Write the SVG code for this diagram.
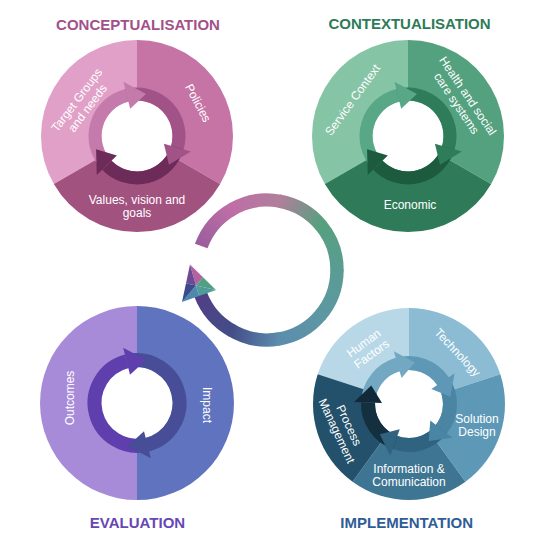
<svg xmlns="http://www.w3.org/2000/svg" width="546" height="540" viewBox="0 0 546 540">
<style>
.t{font-family:"Liberation Sans",Arial,sans-serif;font-size:12px;fill:#fff;text-anchor:middle}
.title{font-family:"Liberation Sans",Arial,sans-serif;font-size:15px;font-weight:bold;text-anchor:middle}
.b{fill:none;stroke-width:13}
.b14{fill:none;stroke-width:14}
.hole{fill:#fff}
</style>
<defs>
<linearGradient id="g1" gradientUnits="userSpaceOnUse" x1="201.22" y1="246.06" x2="232" y2="209.38"><stop offset="0" stop-color="#9a5e9d"/><stop offset="1" stop-color="#bf6ea6"/></linearGradient>
<linearGradient id="g2" gradientUnits="userSpaceOnUse" x1="232" y1="209.38" x2="279.16" y2="201.06"><stop offset="0" stop-color="#bf6ea6"/><stop offset="1" stop-color="#b07f9c"/></linearGradient>
<linearGradient id="g3" gradientUnits="userSpaceOnUse" x1="279.16" y1="201.06" x2="320.62" y2="225"><stop offset="0" stop-color="#b07f9c"/><stop offset="1" stop-color="#56a07f"/></linearGradient>
<linearGradient id="g4" gradientUnits="userSpaceOnUse" x1="320.62" y1="225" x2="337" y2="270"><stop offset="0" stop-color="#56a07f"/><stop offset="1" stop-color="#5a9c93"/></linearGradient>
<linearGradient id="g5" gradientUnits="userSpaceOnUse" x1="337" y1="270" x2="320.62" y2="315"><stop offset="0" stop-color="#5a9c93"/><stop offset="1" stop-color="#5d97a3"/></linearGradient>
<linearGradient id="g6" gradientUnits="userSpaceOnUse" x1="320.62" y1="315" x2="279.16" y2="338.94"><stop offset="0" stop-color="#5d97a3"/><stop offset="1" stop-color="#5b8dac"/></linearGradient>
<linearGradient id="g7" gradientUnits="userSpaceOnUse" x1="279.16" y1="338.94" x2="232" y2="330.62"><stop offset="0" stop-color="#5b8dac"/><stop offset="1" stop-color="#434d88"/></linearGradient>
<linearGradient id="g8" gradientUnits="userSpaceOnUse" x1="232" y1="330.62" x2="201.22" y2="293.94"><stop offset="0" stop-color="#434d88"/><stop offset="1" stop-color="#523f85"/></linearGradient>
</defs>
<rect width="546" height="540" fill="#fff"/>

<g id="connectors">
<path d="M201.22 246.06 A70 70 0 0 1 233.06 208.78" stroke="url(#g1)" stroke-width="13.4" fill="none"/>
<path d="M232 209.38 A70 70 0 0 1 280.36 201.29" stroke="url(#g2)" stroke-width="13.4" fill="none"/>
<path d="M279.16 201.06 A70 70 0 0 1 321.40 225.95" stroke="url(#g3)" stroke-width="13.4" fill="none"/>
<path d="M320.62 225 A70 70 0 0 1 336.99 271.22" stroke="url(#g4)" stroke-width="13.4" fill="none"/>
<path d="M337 270 A70 70 0 0 1 319.83 315.92" stroke="url(#g5)" stroke-width="13.4" fill="none"/>
<path d="M320.62 315 A70 70 0 0 1 277.95 339.14" stroke="url(#g6)" stroke-width="13.4" fill="none"/>
<path d="M279.16 338.94 A70 70 0 0 1 230.95 330" stroke="url(#g7)" stroke-width="13.4" fill="none"/>
<path d="M232 330.62 A70 70 0 0 1 200.5 294.2" stroke="url(#g8)" stroke-width="13.4" fill="none"/>
<g id="cycle-arrowhead">
<polygon points="196,285.5 190,264.5 203,277.25" fill="#b3649f"/>
<polygon points="196,285.5 203,277.25 216,290" fill="#52a083"/>
<polygon points="196,285.5 216,290 199,296" fill="#4f9c98"/>
<polygon points="196,285.5 199,296 182,302" fill="#4d88ad"/>
<polygon points="196,285.5 182,302 186,283.25" fill="#3b4b8c"/>
<polygon points="196,285.5 186,283.25 190,264.5" fill="#6c4a96"/>
</g>
</g>

<g id="conceptualisation" transform="translate(137,136)">
<text class="title" x="1" y="-106.5" fill="#a3508a">CONCEPTUALISATION</text>
<path d="M0 0 L-83.14 48 A96 96 0 0 1 0 -96 Z" fill="#e1a0c7"/>
<path d="M0 0 L0 -96 A96 96 0 0 1 83.14 48 Z" fill="#c674a6"/>
<path d="M0 0 L83.14 48 A96 96 0 0 1 -83.14 48 Z" fill="#a2527f"/>
<circle class="hole" r="35.5"/>
<path class="b" d="M-30.21 29.18 A42 42 0 0 1 -10.16 -40.75" stroke="#c47bab"/>
<path class="b" d="M-10.16 -40.75 A42 42 0 0 1 40.37 11.58" stroke="#a15388"/>
<path class="b" d="M40.37 11.58 A42 42 0 0 1 -30.21 29.18" stroke="#6c2b59"/>
<polygon points="-6.77,-27.17 -13.55,-54.34 8.94,-42.06" fill="#c47bab"/>
<polygon points="26.92,7.72 53.83,15.43 31.95,28.77" fill="#a15388"/>
<polygon points="-20.14,19.45 -40.28,38.9 -40.9,13.29" fill="#6c2b59"/>
<text class="t" transform="translate(-55,-32) rotate(-53)"><tspan x="0" y="-2.5">Target Groups</tspan><tspan x="0" y="11">and needs</tspan></text>
<text class="t" transform="translate(61,-33) rotate(62)" y="4">Policies</text>
<text class="t"><tspan x="0" y="68">Values, vision and</tspan><tspan x="0" y="81">goals</tspan></text>
</g>

<g id="contextualisation" transform="translate(408,136)">
<text class="title" x="1.5" y="-106.7" fill="#2e7a57">CONTEXTUALISATION</text>
<path d="M0 0 L-83.14 48 A96 96 0 0 1 0 -96 Z" fill="#86c4a6"/>
<path d="M0 0 L0 -96 A96 96 0 0 1 83.14 48 Z" fill="#54a17f"/>
<path d="M0 0 L83.14 48 A96 96 0 0 1 -83.14 48 Z" fill="#2f7b59"/>
<circle class="hole" r="35.5"/>
<path class="b" d="M-30.21 29.18 A42 42 0 0 1 -10.16 -40.75" stroke="#58a786"/>
<path class="b" d="M-10.16 -40.75 A42 42 0 0 1 40.37 11.58" stroke="#2f7c5a"/>
<path class="b" d="M40.37 11.58 A42 42 0 0 1 -30.21 29.18" stroke="#1c5b3d"/>
<polygon points="-6.77,-27.17 -13.55,-54.34 8.94,-42.06" fill="#58a786"/>
<polygon points="26.92,7.72 53.83,15.43 31.95,28.77" fill="#2f7c5a"/>
<polygon points="-20.14,19.45 -40.28,38.9 -40.9,13.29" fill="#1c5b3d"/>
<text class="t" transform="translate(-55.3,-36) rotate(-54)" y="4">Service Context</text>
<text class="t" transform="translate(54.3,-36.5) rotate(56)"><tspan x="0" y="-2.5">Health and social</tspan><tspan x="0" y="11">care systems</tspan></text>
<text class="t" x="2" y="73">Economic</text>
</g>

<g id="evaluation" transform="translate(137,403)">
<path d="M0 0 L0 97 A97 97 0 0 1 0 -97 Z" fill="#a78bd9"/>
<path d="M0 0 L0 -97 A97 97 0 0 1 0 97 Z" fill="#5f73bf"/>
<circle class="hole" r="36"/>
<path class="b14" d="M10.4 41.72 A43 43 0 0 1 -10.4 -41.72" stroke="#5e3fad"/>
<path class="b14" d="M-10.4 -41.72 A43 43 0 0 1 10.4 41.72" stroke="#474d97"/>
<polygon points="-7.02,-28.14 -13.79,-55.31 9.15,-43.04" fill="#5e3fad"/>
<polygon points="7.02,28.14 13.79,55.31 -9.15,43.04" fill="#474d97"/>
<text class="t" transform="translate(-67.5,-5) rotate(-90)" y="4">Outcomes</text>
<text class="t" transform="translate(70,2) rotate(90)" y="4">Impact</text>
<text class="title" x="0.5" y="125.3" fill="#6647b3">EVALUATION</text>
</g>

<g id="implementation" transform="translate(409,404)">
<path d="M0 0 L-91.3 -29.67 A96 96 0 0 1 0 -96 Z" fill="#b8d8e7"/>
<path d="M0 0 L0 -96 A96 96 0 0 1 91.3 -29.67 Z" fill="#8bbcd3"/>
<path d="M0 0 L91.3 -29.67 A96 96 0 0 1 56.43 77.67 Z" fill="#5d99b7"/>
<path d="M0 0 L56.43 77.67 A96 96 0 0 1 -56.43 77.67 Z" fill="#3e7592"/>
<path d="M0 0 L-56.43 77.67 A96 96 0 0 1 -91.3 -29.67 Z" fill="#23506a"/>
<circle class="hole" r="34"/>
<path class="b14" d="M-40.98 -1.43 A41 41 0 0 1 -11.3 -39.41" stroke="#72a8c2"/>
<path class="b14" d="M-11.3 -39.41 A41 41 0 0 1 33.99 -22.93" stroke="#5e98b6"/>
<path class="b14" d="M33.99 -22.93 A41 41 0 0 1 32.31 25.24" stroke="#4a85a3"/>
<path class="b14" d="M32.31 25.24 A41 41 0 0 1 -14.02 38.53" stroke="#30637f"/>
<path class="b14" d="M-14.02 38.53 A41 41 0 0 1 -40.98 -1.43" stroke="#14303f"/>
<polygon points="-7.44,-25.96 -15.16,-52.87 5.85,-41.59" fill="#72a8c2"/>
<polygon points="22.38,-15.1 45.6,-30.76 41.36,-7.29" fill="#5e98b6"/>
<polygon points="21.28,16.62 43.34,33.86 19.72,37.08" fill="#4a85a3"/>
<polygon points="-9.23,25.37 -18.81,51.68 -29.18,30.21" fill="#30637f"/>
<polygon points="-26.98,-0.94 -54.97,-1.92 -37.75,-18.41" fill="#12293a"/>
<text class="t" transform="translate(-41.5,-55.6) rotate(-36)"><tspan x="0" y="-2.5">Human</tspan><tspan x="0" y="11">Factors</tspan></text>
<text class="t" transform="translate(48.5,-51.5) rotate(47)" y="4">Technology</text>
<text class="t"><tspan x="68" y="19">Solution</tspan><tspan x="68" y="31.5">Design</tspan></text>
<text class="t"><tspan x="0" y="68.7">Information &amp;</tspan><tspan x="0" y="81.7">Comunication</tspan></text>
<text class="t" transform="translate(-66,24) rotate(65)"><tspan x="0" y="-2.5">Process</tspan><tspan x="0" y="11">Management</tspan></text>
<text class="title" x="-2.3" y="124.3" fill="#2e5d96">IMPLEMENTATION</text>
</g>
</svg>
